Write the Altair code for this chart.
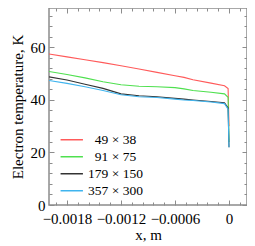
import altair as alt
import pandas as pd

# ---- data ----
x_vals = [-0.002, -0.0018, -0.0016, -0.0014, -0.0012, -0.001, -0.0008, -0.0006,
          -0.0005, -0.0004, -0.0002, -0.00005, -0.00001, 0.0]
red = [57.5, 56.4, 55.3, 54.2, 53.0, 51.8, 50.5, 49.2, 48.6, 47.7, 46.4, 45.4, 44.3, 30.0]
green = [50.8, 49.7, 48.4, 46.9, 45.8, 45.2, 45.0, 44.7, 44.2, 43.6, 42.9, 42.3, 41.0, 24.0]
black = [48.8, 47.6, 46.0, 44.4, 42.3, 41.6, 41.2, 40.6, 40.3, 40.0, 39.4, 38.9, 37.0, 22.0]
cyan = [47.4, 46.3, 45.0, 43.6, 42.0, 41.2, 40.9, 40.3, 40.0, 39.8, 39.2, 38.6, 36.5, 22.0]

series_names = ["49 \u00d7 38", "91 \u00d7 75", "179 \u00d7 150", "357 \u00d7 300"]
series_colors = ["#ff5a5a", "#4fe04f", "#333333", "#3fb4ee"]

x_major = [-0.0018, -0.0012, -0.0006, 0.0]
x_minor = [round(-0.00192 + 0.00012 * i, 6) for i in range(18)]
y_major = [0, 20, 40, 60]
y_minor = list(range(0, 76, 4))

W, H = 198, 197
FONT = "Liberation Serif"
FRAME = "#8c8c8c"

rows = []
for name, vals in zip(series_names, [red, green, black, cyan]):
    for xv, yv in zip(x_vals, vals):
        rows.append({"x": xv, "T": yv, "grid": name})
df = pd.DataFrame(rows)

xscale = alt.Scale(domain=[-0.002, 0.0002], nice=False, zero=False)
yscale = alt.Scale(domain=[0, 75], nice=False, zero=False)

x_tick_size = {"condition": {"test": "abs(datum.value / 0.0006 - round(datum.value / 0.0006)) < 0.01", "value": 5}, "value": 3}
y_tick_size = {"condition": {"test": "datum.value % 20 === 0", "value": 5}, "value": 3}

base = alt.Chart(df)

lines = base.mark_line(strokeWidth=1.1, clip=True).encode(
    x=alt.X("x:Q", scale=xscale,
            axis=alt.Axis(orient="bottom", values=x_major, format=".4~f", ticks=False,
                          domain=False, grid=False, labelFontSize=15, labelFont=FONT,
                          labelColor="black", labelPadding=6, title="x, m",
                          titleFontSize=15, titleFont=FONT, titleFontWeight="normal",
                          titleColor="black", titlePadding=1)),
    y=alt.Y("T:Q", scale=yscale,
            axis=alt.Axis(orient="left", values=y_major, ticks=False, domain=False,
                          grid=False, labelFontSize=15, labelFont=FONT, labelColor="black",
                          labelPadding=4, title="Electron temperature, K",
                          titleFontSize=15, titleFont=FONT, titleFontWeight="normal",
                          titleColor="black", titlePadding=5)),
    color=alt.Color("grid:N", sort=series_names,
                    scale=alt.Scale(domain=series_names, range=series_colors),
                    legend=alt.Legend(orient="none", legendX=16, legendY=125, title=None,
                                      symbolType="M-2.5,0L2.5,0", symbolSize=80,
                                      symbolStrokeWidth=1.5, symbolFillColor="transparent",
                                      labelFont=FONT,
                                      labelFontSize=13.5, labelColor="black",
                                      labelAlign="center", labelOffset=37,
                                      rowPadding=2, padding=0)),
    order=alt.Order("x:Q"),
)

ticks_a = base.mark_line(strokeOpacity=0).encode(
    x=alt.X("x:Q", scale=xscale,
            axis=alt.Axis(orient="top", offset=-H, values=x_minor, labels=False,
                          domain=False, grid=False, tickColor=FRAME, tickWidth=1,
                          tickSize=x_tick_size, title=None)),
    y=alt.Y("T:Q", scale=yscale,
            axis=alt.Axis(orient="right", offset=-W, values=y_minor, labels=False,
                          domain=False, grid=False, tickColor=FRAME, tickWidth=1,
                          tickSize=y_tick_size, title=None)),
    detail="grid:N",
)

ticks_b = base.mark_line(strokeOpacity=0).encode(
    x=alt.X("x:Q", scale=xscale,
            axis=alt.Axis(orient="bottom", offset=-H, values=x_minor, labels=False,
                          domain=False, grid=False, tickColor=FRAME, tickWidth=1,
                          tickSize=x_tick_size, title=None)),
    y=alt.Y("T:Q", scale=yscale,
            axis=alt.Axis(orient="left", offset=-W, values=y_minor, labels=False,
                          domain=False, grid=False, tickColor=FRAME, tickWidth=1,
                          tickSize=y_tick_size, title=None)),
    detail="grid:N",
)

chart = alt.layer(lines, ticks_a, ticks_b).resolve_axis(
    x="independent", y="independent"
).properties(
    width=W, height=H,
    autosize=alt.AutoSizeParams(type="none"),
    padding={"left": 41, "top": 0, "right": 0, "bottom": 41},
    background="white",
).configure(
    font=FONT
).configure_view(
    stroke=FRAME, strokeWidth=1.5
)

chart.save("out.html", embed_options={"renderer": "svg", "actions": False})
